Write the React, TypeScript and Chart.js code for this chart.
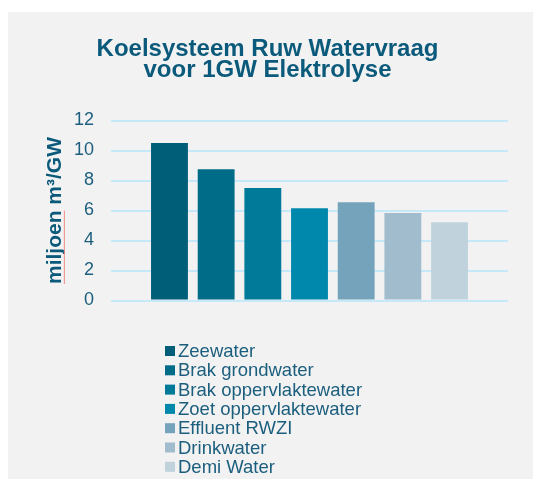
import React, { useEffect, useRef } from "react";
import { Chart, registerables } from "chart.js";

Chart.register(...registerables);

const categories = [""];
const seriesNames = [
  "Zeewater",
  "Brak grondwater",
  "Brak oppervlaktewater",
  "Zoet oppervlaktewater",
  "Effluent RWZI",
  "Drinkwater",
  "Demi Water",
];
const seriesValues = [10.5, 8.75, 7.5, 6.15, 6.55, 5.83, 5.22];
const seriesColors = [
  "#005e78",
  "#006c88",
  "#007a98",
  "#0088ac",
  "#74a3bb",
  "#a1bccd",
  "#c0d3dd",
];
const titleLines = ["Koelsysteem Ruw Watervraag", "voor 1GW Elektrolyse"];
const yAxisTitle = "miljoen m³/GW";
const yMin = 0;
const yMax = 12;
const yStep = 2;

const FONT = "'Liberation Sans', Arial, sans-serif";
const TEXT = "#1b5e7d";
const TITLE = "#0b5a7b";
const Y_TITLE_SIZE = 21;

const legendPlugin = {
  id: "verticalLegend",
  afterDraw(chart: any) {
    const { ctx, chartArea } = chart;
    const x0 = chartArea.left + 54;
    const y0 = chartArea.bottom + 50.5;
    const step = 19.3;
    ctx.save();
    ctx.font = `18.5px ${FONT}`;
    ctx.textBaseline = "middle";
    ctx.textAlign = "left";
    chart.data.datasets.forEach((ds: any, i: number) => {
      const cy = y0 + i * step;
      ctx.fillStyle = ds.backgroundColor;
      ctx.fillRect(x0, cy - 5, 10, 10);
      ctx.fillStyle = TEXT;
      ctx.fillText(ds.label, x0 + 13, cy + 1);
    });
    ctx.restore();
  },
};

const spellPlugin = {
  id: "spellUnderline",
  afterDraw(chart: any) {
    const { ctx, chartArea } = chart;
    const ys = chart.scales.y;
    ctx.save();
    ctx.font = `bold ${Y_TITLE_SIZE}px ${FONT}`;
    const total = ctx.measureText(yAxisTitle).width;
    const word = ctx.measureText(yAxisTitle.split(" ")[0]).width;
    const cy = (chartArea.top + chartArea.bottom) / 2;
    const start = cy + total / 2;
    const x = ys.left + 28 + 0.35 * Y_TITLE_SIZE + 2;
    ctx.strokeStyle = "#ef8a8a";
    ctx.lineWidth = 1;
    ctx.beginPath();
    ctx.moveTo(x, start);
    ctx.lineTo(x, start - word);
    ctx.stroke();
    ctx.restore();
  },
};

export default function App() {
  const ref = useRef<HTMLCanvasElement | null>(null);

  useEffect(() => {
    if (!ref.current) return;
    const chart = new Chart(ref.current, {
      type: "bar",
      data: {
        labels: categories,
        datasets: seriesNames.map((name, i) => ({
          label: name,
          data: [seriesValues[i]],
          backgroundColor: seriesColors[i],
          borderWidth: 0,
          categoryPercentage: 0.823,
          barPercentage: 0.79,
        })),
      },
      options: {
        animation: false,
        responsive: true,
        maintainAspectRatio: false,
        layout: { padding: { top: 0, left: 19, right: 25, bottom: 178.5 } },
        plugins: {
          legend: { display: false },
          tooltip: { enabled: false },
          title: {
            display: true,
            text: titleLines,
            color: TITLE,
            font: { family: FONT, size: 24, weight: "bold", lineHeight: 0.875 },
            padding: { top: 27, bottom: 39.5 },
          },
        },
        scales: {
          x: { display: false },
          y: {
            min: yMin,
            max: yMax,
            border: { display: false },
            grid: { color: "#c6e9f9", lineWidth: 2, drawTicks: false },
            ticks: {
              stepSize: yStep,
              padding: 17,
              color: TEXT,
              font: { family: FONT, size: 18 },
            },
            title: {
              display: true,
              text: yAxisTitle,
              color: TITLE,
              font: { family: FONT, size: Y_TITLE_SIZE, weight: "bold" },
              padding: { top: 15.4, bottom: 0 },
            },
            afterFit(scale: any) {
              scale.width = 84;
            },
          },
        },
      },
      plugins: [legendPlugin, spellPlugin],
    });
    return () => chart.destroy();
  }, []);

  return (
    <div
      style={{
        position: "absolute",
        left: 8,
        top: 12,
        width: 525,
        height: 467,
        background: "#f2f2f2",
      }}
    >
      <canvas ref={ref} />
    </div>
  );
}
